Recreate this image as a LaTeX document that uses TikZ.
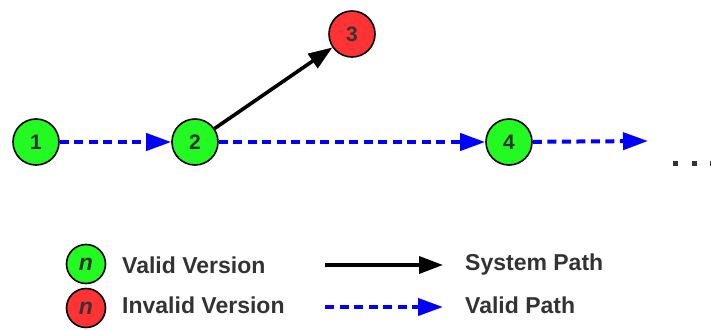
\documentclass[tikz,border=0pt]{standalone}
\usepackage{fontspec}
\setmainfont{Liberation Sans}
\usetikzlibrary{arrows.meta}
\definecolor{vgreen}{RGB}{34,250,34}
\definecolor{vred}{RGB}{255,51,51}
\definecolor{txt}{RGB}{51,51,51}
\tikzset{
  version/.style={circle, draw=black, line width=1.6pt, minimum size=46pt, inner sep=0pt,
    font=\fontsize{21}{21}\selectfont\bfseries, text=txt},
  validv/.style={version, fill=vgreen},
  invalidv/.style={version, fill=vred},
  keyv/.style={circle, draw=black, line width=1.6pt, minimum size=39pt, inner sep=0pt,
    font=\fontsize{23}{23}\selectfont\bfseries\itshape, text=txt},
  syspath/.style={line width=3.6pt, draw=black, -{Triangle[length=24pt, width=17pt]}},
  validpath/.style={line width=4pt, draw=blue, dash pattern=on 9pt off 5.5pt,
    -{Triangle[length=25pt, width=17pt]}},
  label/.style={anchor=west, inner sep=0pt, text=txt, font=\fontsize{23}{23}\selectfont\bfseries},
  dot/.style={fill=txt, minimum size=5pt, inner sep=0pt}
}
\begin{document}
\begin{tikzpicture}[x=1pt, y=-1pt]
\useasboundingbox (0,0) rectangle (711,329);

% version graph
\node[validv]   (v1) at (36,142)  {1};
\node[validv]   (v2) at (195,142) {2};
\node[invalidv] (v3) at (352,34)  {3};
\node[validv]   (v4) at (509,142) {4};
\coordinate (more) at (648,141);

\draw[validpath] (v1) -- (v2);
\draw[syspath]   (v2) -- (v3);
\draw[validpath] (v2) -- (v4);
\draw[validpath] (v4) -- (more);

% continuation dots
\node[dot] (d1) at (675,163) {};
\node[dot] (d2) at (694,163) {};
\node[dot] (d3) at (712,163) {};

% legend
\node[keyv, fill=vgreen] (kv) at (86,264) {n};
\node[keyv, fill=vred]   (ki) at (86,308) {n};
\node[label] (lv) at (122,265) {Valid Version};
\node[label] (li) at (122,305) {Invalid Version};

\coordinate (sa) at (325,265);
\coordinate (sb) at (443,265);
\coordinate (pa) at (325,307);
\coordinate (pb) at (443,307);
\draw[syspath]   (sa) -- (sb);
\draw[validpath] (pa) -- (pb);
\node[label] (ls) at (465,265) {System Path};
\node[label] (lp) at (465,305) {Valid Path};
\end{tikzpicture}
\end{document}
